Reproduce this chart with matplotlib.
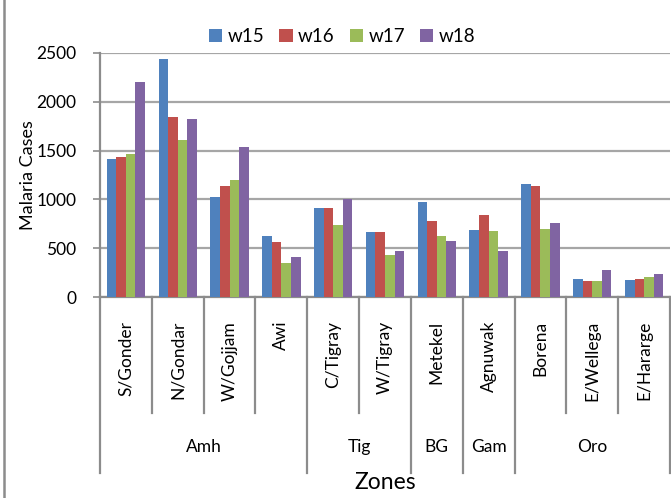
import numpy as np
import matplotlib.pyplot as plt
import matplotlib.transforms as mtransforms
from matplotlib.lines import Line2D

plt.rcParams['font.family'] = ['Lato', 'DejaVu Sans']

# zones (level 1) and regions (level 2)
zones = ["S/Gonder", "N/Gondar", "W/Gojjam", "Awi", "C/Tigray", "W/Tigray",
         "Metekel", "Agnuwak", "Borena", "E/Wellega", "E/Hararge"]
regions = ["Amh", "Tig", "BG", "Gam", "Oro"]
region_sizes = [4, 2, 1, 1, 3]

weeks = ["w15", "w16", "w17", "w18"]
w15 = [1410, 2440, 1020, 625, 910, 665, 970, 685, 1160, 185, 175]
w16 = [1430, 1840, 1140, 565, 910, 665, 775, 840, 1140, 165, 185]
w17 = [1470, 1610, 1200, 350, 735, 430, 625, 675, 695, 165, 205]
w18 = [2200, 1820, 1540, 410, 1000, 470, 575, 470, 755, 280, 240]
colors = ["#4F81BD", "#C0504D", "#9BBB59", "#8064A2"]

TXT = "black"

fig = plt.figure(figsize=(6.71, 4.98), dpi=100)
ax = fig.add_axes([100 / 671, 1 - 297 / 498, 570 / 671, 244 / 498])

x = np.arange(len(zones))
bw = 0.185
for i, (vals, c, lab) in enumerate(zip([w15, w16, w17, w18], colors, weeks)):
    ax.bar(x + (i - 1.5) * bw, vals, width=bw, color=c, label=lab, zorder=3)

ax.set_xlim(-0.5, len(zones) - 0.5)
ax.set_ylim(0, 2500)
ax.set_yticks(range(0, 2501, 500))
ax.yaxis.grid(True, color="#a6a6a6", linewidth=1.6, zorder=0)
ax.tick_params(axis='y', labelsize=12.5, length=5, width=1.2, color="#8c8c8c",
               direction='out', pad=12, labelcolor=TXT)
ax.tick_params(axis='x', bottom=False, labelbottom=False)
for s in ["top", "right"]:
    ax.spines[s].set_visible(False)
for s in ["left", "bottom"]:
    ax.spines[s].set_color("#8c8c8c")
    ax.spines[s].set_linewidth(1.6)

ax.set_ylabel("Malaria Cases", fontsize=13, color=TXT)
ax.yaxis.set_label_coords(-(100 - 36) / 570, 0.5)

# two-level category axis below the plot
trans = mtransforms.blended_transform_factory(ax.transData, ax.transAxes)
inner_bottom = -(413 - 297) / 244
outer_bottom = -(473 - 297) / 244
group_edges = np.cumsum([0] + region_sizes)
for b in range(len(zones) + 1):
    y1 = outer_bottom if b in group_edges else inner_bottom
    ax.add_line(Line2D([b - 0.5, b - 0.5], [0, y1], transform=trans,
                       color="#8c8c8c", linewidth=1.6, clip_on=False))

for xi, name in zip(x, zones):
    ax.text(xi, -(321 - 297) / 244, name, transform=trans, rotation=90,
            ha='center', va='top', fontsize=12.5, color=TXT)

for g, name in enumerate(regions):
    mid = (group_edges[g] + group_edges[g + 1]) / 2 - 0.5
    ax.text(mid, -(447 - 297) / 244, name, transform=trans,
            ha='center', va='center', fontsize=12.5, color=TXT)

fig.text(385 / 671, 1 - 482 / 498, "Zones", ha='center', va='center',
         fontsize=16.5, color=TXT)

ax.legend(loc='lower center', bbox_to_anchor=(0.425, 0.985), ncol=4,
          frameon=False, fontsize=13.5, handlelength=0.7, handleheight=0.7,
          handletextpad=0.3, columnspacing=0.8, borderpad=0.1,
          labelcolor=TXT)

# chart area border on the left
fig.add_artist(Line2D([4 / 671, 4 / 671], [0, 1], transform=fig.transFigure,
                      color="#8c8c8c", linewidth=1.8))

fig.savefig("out.png", dpi=100)
